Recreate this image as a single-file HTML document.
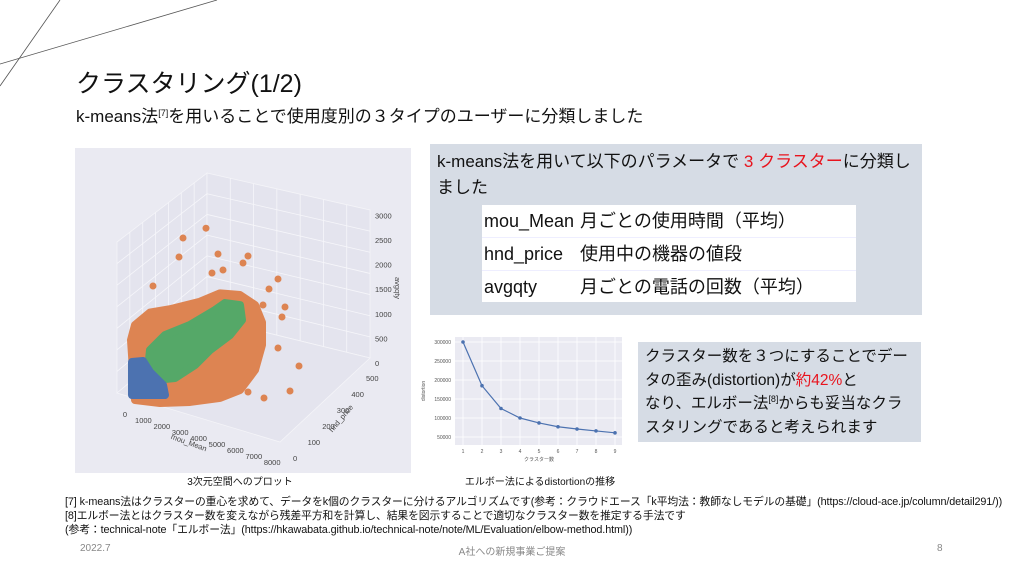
<!DOCTYPE html>
<html><head><meta charset="utf-8">
<style>
*{margin:0;padding:0;box-sizing:border-box}
body{width:1024px;height:576px;background:#fff;position:relative;overflow:hidden;font-family:"Liberation Sans","Noto Sans CJK JP",sans-serif;color:#111}
.abs{position:absolute;white-space:nowrap}
.red{color:#e8141e}
sup{font-size:9px;vertical-align:6px;line-height:0}
</style></head><body>
<svg class="abs" style="left:0;top:0" width="240" height="100">
<line x1="0" y1="64" x2="217" y2="0" stroke="#555" stroke-width="0.8"/>
<line x1="0" y1="86" x2="60" y2="0" stroke="#555" stroke-width="0.8"/>
</svg>
<div class="abs" style="left:76px;top:66px;font-size:25px;line-height:36px">クラスタリング(1/2)</div>
<div class="abs" style="left:76px;top:105px;font-size:17px;line-height:24px">k-means法<sup>[7]</sup>を用いることで使用度別の３タイプのユーザーに分類しました</div>

<svg class="abs" style="left:75px;top:148px" width="336" height="325" id="s3d"></svg>
<div class="abs" style="left:175px;top:473px;font-size:10px;width:130px;text-align:center">3次元空間へのプロット</div>

<div class="abs" style="left:430px;top:144px;width:492px;height:171px;background:#d6dce5"></div>
<div class="abs" style="left:437px;top:149px;font-size:17px;line-height:26px">k-means法を用いて以下のパラメータで <span class="red">3 クラスター</span>に分類し<br>ました</div>
<div class="abs" style="left:482px;top:205px;width:374px;height:97px;background:#fff;font-size:18px;line-height:32px">
<div style="padding-left:2px;border-bottom:1px solid #eef"><span style="display:inline-block;width:96px">mou_Mean</span>月ごとの使用時間（平均）</div>
<div style="padding-left:2px;border-bottom:1px solid #eef"><span style="display:inline-block;width:96px">hnd_price</span>使用中の機器の値段</div>
<div style="padding-left:2px"><span style="display:inline-block;width:96px">avgqty</span>月ごとの電話の回数（平均）</div>
</div>

<svg class="abs" style="left:415px;top:330px" width="215" height="140" id="elb"></svg>
<div class="abs" style="left:460px;top:473px;font-size:10px;width:160px;text-align:center">エルボー法によるdistortionの推移</div>

<div class="abs" style="left:638px;top:342px;width:283px;height:100px;background:#d6dce5"></div>
<div class="abs" style="left:645px;top:345px;font-size:15.5px;line-height:23.5px">クラスター数を３つにすることでデー<br>タの歪み(distortion)が<span class="red">約42%</span>と<br>なり、エルボー法<sup>[8]</sup>からも妥当なクラ<br>スタリングであると考えられます</div>

<div class="abs" style="left:65px;top:495px;font-size:10.8px;line-height:14px;letter-spacing:-0.1px">[7] k-means法はクラスターの重心を求めて、データをk個のクラスターに分けるアルゴリズムです(参考：クラウドエース「k平均法：教師なしモデルの基礎」(https://cloud-ace.jp/column/detail291/))<br>[8]エルボー法とはクラスター数を変えながら残差平方和を計算し、結果を図示することで適切なクラスター数を推定する手法です<br>(参考：technical-note「エルボー法」(https://hkawabata.github.io/technical-note/note/ML/Evaluation/elbow-method.html))</div>
<div class="abs" style="left:80px;top:543px;font-size:10px;color:#888">2022.7</div>
<div class="abs" style="left:452px;top:543px;font-size:10px;color:#888;width:120px;text-align:center">A社への新規事業ご提案</div>
<div class="abs" style="left:937px;top:543px;font-size:10px;color:#888">8</div>

<script>
const NS='http://www.w3.org/2000/svg';
function mk(p,t,a){const e=document.createElementNS(NS,t);for(const k in a)e.setAttribute(k,a[k]);p.appendChild(e);return e;}

// ---- elbow chart data ----
const elbowK=[1,2,3,4,5,6,7,8,9];
const elbowDist=[300000,185000,125000,100000,87000,77000,71000,66000,61000];
const elbowYTicks=[50000,100000,150000,200000,250000,300000];
(function(){
 const s=document.getElementById('elb');
 const L=40,R=207,T=7,B=115;
 const xs=k=>48+(k-1)*(152/8), ys=v=>107-(v-50000)*(95/250000);
 const bg=mk(s,'rect',{x:L,y:T,width:R-L,height:B-T,fill:'#eaeaf2'});
 
 elbowYTicks.forEach(v=>{const y=ys(v);
  mk(s,'line',{x1:L,x2:R,y1:y,y2:y,stroke:'#fff','stroke-width':0.8});
  const t=mk(s,'text',{x:L-4,y:y+2,'font-size':5,'text-anchor':'end',fill:'#555'});t.textContent=v;
  });
 elbowK.forEach(k=>{const x=xs(k);
  mk(s,'line',{x1:x,x2:x,y1:T,y2:B,stroke:'#fff','stroke-width':0.8});
  const t=mk(s,'text',{x:x,y:B+8,'font-size':5,'text-anchor':'middle',fill:'#555'});t.textContent=k;
  });
 const yl=mk(s,'text',{x:10,y:61,'font-size':5,'text-anchor':'middle',fill:'#555',transform:'rotate(-90 10 61)'});yl.textContent='distortion';
 
 const xl=mk(s,'text',{x:124,y:B+16,'font-size':5,'text-anchor':'middle',fill:'#555'});xl.textContent='クラスター数';
 
 const pl=mk(s,'polyline',{points:elbowK.map((k,i)=>xs(k)+','+ys(elbowDist[i])).join(' '),fill:'none',stroke:'#4c72b0','stroke-width':1.2});
 
 elbowK.forEach((k,i)=>{const c=mk(s,'circle',{cx:xs(k),cy:ys(elbowDist[i]),r:1.8,fill:'#4c72b0'});
  });
})();

// ---- 3D scatter data (mou_Mean, avgqty) at hnd_price≈50 ----
const orangeOutlierMou=[3920,2693,2480,4560,6160,5893,1093,7760,7280,8133,7973,7760,8880,8400,7013,6160,5093,4827,4240,6960];
const orangeOutlierQty=[3810,3460,3054,3374,3534,3360,2300,3274,3014,2760,2540,1894,1674,1114,800,814,680,3088,2954,2654];
const orangeBlobMou=[-80,133,933,2000,3600,4667,5733,6533,6907,6907,6533,5733,4667,3067,1467,133];
const orangeBlobQty=[1074,1400,1750,1950,2300,2600,2700,2600,2300,1848,1300,800,508,228,8,-100];
const greenBlobMou=[827,933,1733,3067,4400,4933,5733,5840,5200,4133,3333,2267,1200];
const greenBlobQty=[588,1000,1400,1768,2234,2440,2500,2214,1834,1400,1000,608,434];
const blueBlobMou=[-27,560,933,1627,1733,-27];
const blueBlobQty=[640,734,560,388,200,-20];
const mouTicks=[0,1000,2000,3000,4000,5000,6000,7000,8000];
const hndTicks=[0,100,200,300,400,500];
const qtyTicks=[0,500,1000,1500,2000,2500,3000];
(function(){
 const s=document.getElementById('s3d');
 const ox=-75,oy=-148;
 const P=(m,h,q)=>[125+ox+m*150/8000+h*75/500, 402+oy+m*50/8000-h*78/500-q*0.05];
 const bg=mk(s,'rect',{x:0,y:0,width:336,height:325,fill:'#eaeaf2'});
 
 const pane=(pts,n)=>{const p=mk(s,'polygon',{points:pts.map(p=>(p[0]+ox)+','+(p[1]+oy)).join(' '),fill:'#e4e4ee',stroke:'#f4f4f8','stroke-width':0.8});
  };
 pane([[117,242],[207,173],[207,318],[117,393]],'left-pane');
 pane([[207,173],[370,210],[370,358],[207,318]],'back-pane');
 pane([[117,393],[207,318],[370,358],[280,442]],'floor-pane');
 const g=(a,b)=>mk(s,'line',{x1:a[0]+ox,y1:a[1]+oy,x2:b[0]+ox,y2:b[1]+oy,stroke:'#f6f6fa','stroke-width':0.8});
 for(let i=1;i<7;i++){const f=i/7;
  g([207+163*f,173+37*f],[207+163*f,318+40*f]);
  g([117+90*f,242-69*f],[117+90*f,393-75*f]);}
 for(let i=1;i<7;i++){const f=i/7;
  g([207,173+145*f],[370,210+148*f]);g([117,242+151*f],[207,173+145*f]);}
 const blob=(M,Q,col,n)=>{const p=mk(s,'polygon',{points:M.map((m,i)=>P(m,50,Q[i]).join(',')).join(' '),fill:col,stroke:col,'stroke-width':8,'stroke-linejoin':'round'});
  };
 blob(orangeBlobMou,orangeBlobQty,'#dd8452','orange-cluster');
 orangeOutlierMou.forEach((m,i)=>{const [x,y]=P(m,50,orangeOutlierQty[i]);
  const c=mk(s,'circle',{cx:x,cy:y,r:3.5,fill:'#dd8452'});
  });
 blob(greenBlobMou,greenBlobQty,'#55a868','green-cluster');
 blob(blueBlobMou,blueBlobQty,'#4c72b0','blue-cluster');
 const txt=(x,y,str,n,extra)=>{const t=mk(s,'text',Object.assign({x:x+ox,y:y+oy,'font-size':7.5,fill:'#444','text-anchor':'middle'},extra||{}));t.textContent=str;
  return t;};
 mouTicks.forEach((m,i)=>txt(125+i*18.4,417+i*6,m,'mou-tick'));
 hndTicks.forEach((h,i)=>txt(293+i*14.6,461-i*16,h,'hnd-tick',{'text-anchor':'start'}));
 qtyTicks.forEach((q,i)=>txt(375,366-i*24.6,q,'qty-tick',{'text-anchor':'start'}));
 txt(188,445,'mou_Mean','x-axis-title',{transform:'rotate(20 '+(188+ox)+' '+(445+oy)+')'});
 txt(343,420,'hnd_price','y-axis-title',{transform:'rotate(-50 '+(343+ox)+' '+(420+oy)+')'});
 txt(395,288,'avgqty','z-axis-title',{transform:'rotate(90 '+(395+ox)+' '+(288+oy)+')'});
})();
</script>
</body></html>
